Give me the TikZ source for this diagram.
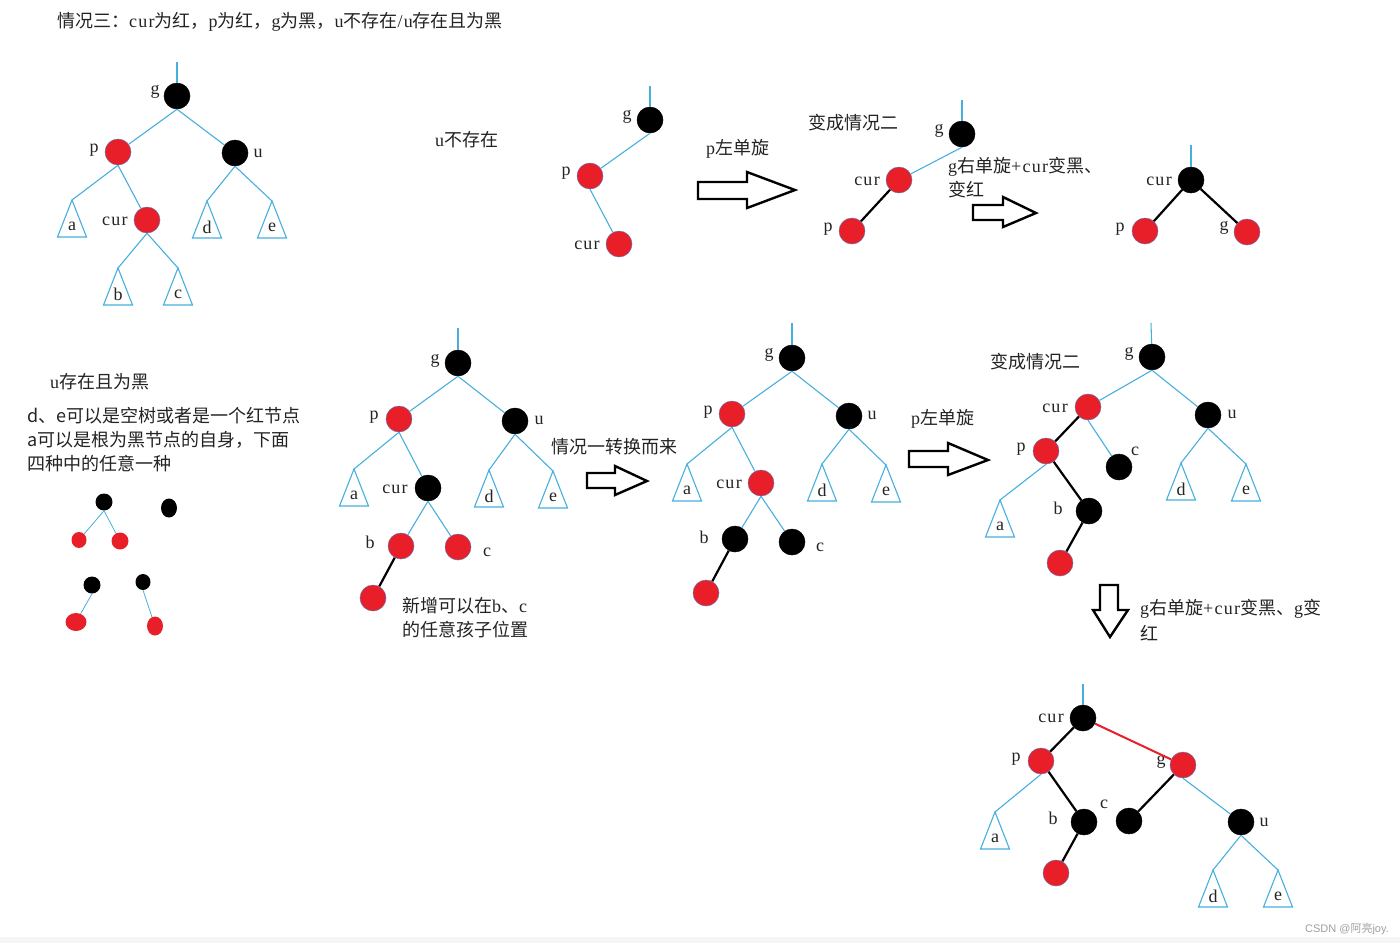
\documentclass[tikz,border=0pt]{standalone}
\usepackage{fontspec}
\setmainfont{Liberation Serif}[LetterSpace=7]
\newfontfamily\cjk{Noto Sans CJK SC}
\newfontfamily\wmfont{Liberation Sans}
\usetikzlibrary{shapes.geometric}
\definecolor{treeblue}{RGB}{70,175,222}
\definecolor{nodered}{RGB}{232,30,40}
\definecolor{txt}{RGB}{35,35,35}
\definecolor{rimc}{RGB}{110,110,170}
\newcommand\subtri[4]{\coordinate (#1) at (#2,#3); \draw[bl] (#1) -- ++(-14.5,37) -- ++(29,0) -- cycle; \path (#1) ++(0,26) node[lbl] {#4};}
\begin{document}
\begin{tikzpicture}[x=1pt,y=-1pt,
 bl/.style={draw=treeblue, line width=1.1pt},
 sbl/.style={draw=treeblue, line width=0.8pt},
 bk/.style={draw=black, line width=2.2pt},
 rd/.style={draw=nodered, line width=2pt},
 rn/.style={circle, fill=nodered, draw=rimc, line width=0.5pt, minimum size=26pt, inner sep=0pt},
 bn/.style={circle, fill=black, draw=black, line width=0.5pt, minimum size=26pt, inner sep=0pt},
 srn/.style={ellipse, fill=nodered, inner sep=0pt},
 sbn/.style={ellipse, fill=black, inner sep=0pt},
 lbl/.style={inner sep=0pt, text=txt, font=\fontsize{18}{20}\selectfont},
 txtl/.style={inner sep=0pt, anchor=west, text=txt, font=\fontsize{18}{22}\selectfont},
 harrow/.style={draw=black, line width=2.4pt, fill=white, line join=miter},
]
\useasboundingbox (0,0) rectangle (1400,943);
\fill[gray!8] (0,937) rectangle (1400,943);

% title
\node[txtl] (title) at (57,22) {{\cjk 情况三：}cur{\cjk 为红，}p{\cjk 为红，}g{\cjk 为黑，}u{\cjk 不存在}/u{\cjk 存在且为黑}};

% ---------- tree 1 ----------
\coordinate (t1top) at (177,62);
\node[bn] (t1g) at (177,96) {};
\node[rn] (t1p) at (118,152) {};
\node[bn] (t1u) at (235,153) {};
\node[rn] (t1c) at (147,220) {};
\subtri{t1a}{72}{200}{a}
\subtri{t1d}{207}{201}{d}
\subtri{t1e}{272}{201}{e}
\subtri{t1b}{118}{268}{b}
\subtri{t1cc}{178}{268}{c}
\node[lbl] (t1gl) at (155,92) {g};
\node[lbl] (t1pl) at (94,150) {p};
\node[lbl] (t1ul) at (258,153) {u};
\node[lbl] (t1cl) at (115,221) {cur};
\draw[bl] (t1top) -- (t1g);
\draw[bl] (t1g.south) -- (t1p);
\draw[bl] (t1g.south) -- (t1u);
\draw[bl] (t1p.south) -- (t1a);
\draw[bl] (t1p.south) -- (t1c);
\draw[bl] (t1u.south) -- (t1d);
\draw[bl] (t1u.south) -- (t1e);
\draw[bl] (t1c.south) -- (t1b);
\draw[bl] (t1c.south) -- (t1cc);

\node[txtl] (nou) at (435,140) {u{\cjk 不存在}};

% ---------- tree 2 ----------
\coordinate (t2top) at (650,86);
\node[bn] (t2g) at (650,120) {};
\node[rn] (t2p) at (590,176) {};
\node[rn] (t2c) at (619,244) {};
\node[lbl] (t2gl) at (627,117) {g};
\node[lbl] (t2pl) at (566,173) {p};
\node[lbl] (t2cl) at (587,245) {cur};
\draw[bl] (t2top) -- (t2g);
\draw[bl] (t2g.south) -- (t2p);
\draw[bl] (t2p.south) -- (t2c);

\node[txtl] (rot1) at (706,149) {p{\cjk 左单旋}};
\draw[harrow] (698,182) -- (747,182) -- (747,172) -- (795,190) -- (747,208) -- (747,199) -- (698,199) -- cycle;
\node[txtl] (case2a) at (808,123) {\cjk 变成情况二};

% ---------- tree 3 ----------
\coordinate (t3top) at (962,100);
\node[bn] (t3g) at (962,134) {};
\node[rn] (t3c) at (899,180) {};
\node[rn] (t3p) at (852,231) {};
\node[lbl] (t3gl) at (939,131) {g};
\node[lbl] (t3cl) at (867,181) {cur};
\node[lbl] (t3pl) at (828,229) {p};
\draw[bl] (t3top) -- (t3g);
\draw[bl] (t3g.south) -- (t3c);
\draw[bk] (t3c) -- (t3p);

\node[txtl] (rot2a) at (948,167) {g{\cjk 右单旋}+cur{\cjk 变黑、}};
\node[txtl] (rot2b) at (948,190) {\cjk 变红};
\draw[harrow] (973,205) -- (1003,205) -- (1003,197) -- (1036,213) -- (1003,227) -- (1003,220) -- (973,220) -- cycle;

% ---------- tree 4 ----------
\coordinate (t4top) at (1191,145);
\node[bn] (t4c) at (1191,180) {};
\node[rn] (t4p) at (1145,231) {};
\node[rn] (t4g) at (1247,232) {};
\node[lbl] (t4cl) at (1159,181) {cur};
\node[lbl] (t4pl) at (1120,229) {p};
\node[lbl] (t4gl) at (1224,228) {g};
\draw[bl] (t4top) -- (t4c);
\draw[bk] (t4c) -- (t4p);
\draw[bk] (t4c) -- (t4g);

% ---------- left text ----------
\node[txtl] (ub) at (50,382) {u{\cjk 存在且为黑}};
\node[txtl] (de1) at (27,416) {\cjk d、e可以是空树或者是一个红节点};
\node[txtl] (de2) at (27,440) {\cjk a可以是根为黑节点的自身，下面};
\node[txtl] (de3) at (27,464) {\cjk 四种中的任意一种};

% small trees
\node[sbn, minimum width=17pt, minimum height=17pt] (s1) at (104,502) {};
\node[srn, minimum width=15pt, minimum height=16pt] (s1l) at (79,540) {};
\node[srn, minimum width=17pt, minimum height=17pt] (s1r) at (120,541) {};
\node[sbn, minimum width=16pt, minimum height=19pt] (s2) at (169,508) {};
\node[sbn, minimum width=17pt, minimum height=17pt] (s3) at (92,585) {};
\node[srn, minimum width=21pt, minimum height=18pt] (s3l) at (76,622) {};
\node[sbn, minimum width=15pt, minimum height=16pt] (s4) at (143,582) {};
\node[srn, minimum width=16pt, minimum height=19pt] (s4r) at (155,626) {};
\draw[sbl] (s1.south) -- (s1l);
\draw[sbl] (s1.south) -- (s1r);
\draw[sbl] (s3.south) -- (s3l);
\draw[sbl] (s4.south) -- (s4r);

% ---------- middle tree A ----------
\coordinate (mAtop) at (458,328);
\node[bn] (mAg) at (458,363) {};
\node[rn] (mAp) at (399,419) {};
\node[bn] (mAu) at (515,421) {};
\node[bn] (mAc) at (428,488) {};
\node[rn] (mAb) at (401,546) {};
\node[rn] (mAcc) at (458,547) {};
\node[rn] (mAn) at (373,598) {};
\subtri{mAa}{354}{469}{a}
\subtri{mAd}{489}{470}{d}
\subtri{mAe}{553}{471}{e}
\node[lbl] (mAgl) at (435,361) {g};
\node[lbl] (mApl) at (374,417) {p};
\node[lbl] (mAul) at (539,420) {u};
\node[lbl] (mAcl) at (395,489) {cur};
\node[lbl] (mAbl) at (370,542) {b};
\node[lbl] (mAccl) at (487,552) {c};
\draw[bl] (mAtop) -- (mAg);
\draw[bl] (mAg.south) -- (mAp);
\draw[bl] (mAg.south) -- (mAu);
\draw[bl] (mAp.south) -- (mAa);
\draw[bl] (mAp.south) -- (mAc);
\draw[bl] (mAu.south) -- (mAd);
\draw[bl] (mAu.south) -- (mAe);
\draw[bl] (mAc.south) -- (mAb);
\draw[bl] (mAc.south) -- (mAcc);
\draw[bk] (mAb) -- (mAn);
\node[txtl] (newa) at (402,606) {{\cjk 新增可以在}b{\cjk 、}c};
\node[txtl] (newb) at (402,630) {\cjk 的任意孩子位置};

\node[txtl] (from1) at (551,447) {\cjk 情况一转换而来};
\draw[harrow] (587,473) -- (615,473) -- (615,466) -- (647,481) -- (615,495) -- (615,488) -- (587,488) -- cycle;

% ---------- middle tree B ----------
\coordinate (mBtop) at (792,323);
\node[bn] (mBg) at (792,358) {};
\node[rn] (mBp) at (732,414) {};
\node[bn] (mBu) at (849,416) {};
\node[rn] (mBc) at (761,483) {};
\node[bn] (mBb) at (735,539) {};
\node[bn] (mBcc) at (792,542) {};
\node[rn] (mBn) at (706,593) {};
\subtri{mBa}{687}{464}{a}
\subtri{mBd}{822}{464}{d}
\subtri{mBe}{886}{465}{e}
\node[lbl] (mBgl) at (769,355) {g};
\node[lbl] (mBpl) at (708,412) {p};
\node[lbl] (mBul) at (872,415) {u};
\node[lbl] (mBcl) at (729,484) {cur};
\node[lbl] (mBbl) at (704,537) {b};
\node[lbl] (mBccl) at (820,547) {c};
\draw[bl] (mBtop) -- (mBg);
\draw[bl] (mBg.south) -- (mBp);
\draw[bl] (mBg.south) -- (mBu);
\draw[bl] (mBp.south) -- (mBa);
\draw[bl] (mBp.south) -- (mBc);
\draw[bl] (mBu.south) -- (mBd);
\draw[bl] (mBu.south) -- (mBe);
\draw[bl] (mBc.south) -- (mBb);
\draw[bl] (mBc.south) -- (mBcc);
\draw[bk] (mBb) -- (mBn);

\node[txtl] (rot3) at (911,419) {p{\cjk 左单旋}};
\draw[harrow] (909,451) -- (948,451) -- (948,443) -- (988,460) -- (948,475) -- (948,467) -- (909,467) -- cycle;

% ---------- tree C ----------
\node[txtl] (case2b) at (990,362) {\cjk 变成情况二};
\coordinate (mCtop) at (1151,323);
\node[bn] (mCg) at (1152,357) {};
\node[rn] (mCc) at (1088,407) {};
\node[bn] (mCu) at (1208,415) {};
\node[rn] (mCp) at (1046,451) {};
\node[bn] (mCcc) at (1119,467) {};
\node[bn] (mCb) at (1089,511) {};
\node[rn] (mCn) at (1060,563) {};
\subtri{mCd}{1181}{463}{d}
\subtri{mCe}{1246}{464}{e}
\subtri{mCa}{1000}{500}{a}
\node[lbl] (mCgl) at (1129,354) {g};
\node[lbl] (mCcl) at (1055,408) {cur};
\node[lbl] (mCul) at (1232,414) {u};
\node[lbl] (mCpl) at (1021,449) {p};
\node[lbl] (mCccl) at (1135,451) {c};
\node[lbl] (mCbl) at (1058,508) {b};
\draw[bl] (mCtop) -- (mCg);
\draw[bl] (mCg.south) -- (mCc);
\draw[bl] (mCg.south) -- (mCu);
\draw[bl] (mCc.south) -- (mCcc);
\draw[bl] (mCp.south) -- (mCa);
\draw[bl] (mCu.south) -- (mCd);
\draw[bl] (mCu.south) -- (mCe);
\draw[bk] (mCc) -- (mCp);
\draw[bk] (mCp) -- (mCb);
\draw[bk] (mCb) -- (mCn);

\draw[harrow] (1100,585) -- (1118,585) -- (1118,610) -- (1128,610) -- (1110,637) -- (1093,610) -- (1100,610) -- cycle;
\node[txtl] (rot4a) at (1140,609) {g{\cjk 右单旋}+cur{\cjk 变黑、}g{\cjk 变}};
\node[txtl] (rot4b) at (1140,633) {\cjk 红};

% ---------- bottom tree ----------
\coordinate (btop) at (1083,684);
\node[bn] (bc) at (1083,718) {};
\node[rn] (bp) at (1041,761) {};
\node[rn] (bg) at (1183,765) {};
\node[bn] (bb) at (1084,822) {};
\node[bn] (bcc) at (1129,821) {};
\node[bn] (bu) at (1241,822) {};
\node[rn] (bn) at (1056,873) {};
\subtri{ba}{995}{812}{a}
\subtri{bd}{1213}{870}{d}
\subtri{be}{1278}{870}{e}
\node[lbl] (bcl) at (1051,718) {cur};
\node[lbl] (bpl) at (1016,759) {p};
\node[lbl] (bgl) at (1161,762) {g};
\node[lbl] (bbl) at (1053,818) {b};
\node[lbl] (bccl) at (1104,804) {c};
\node[lbl] (bul) at (1264,822) {u};
\draw[bl] (btop) -- (bc);
\draw[bk] (bc) -- (bp);
\draw[rd] (bc) -- (bg);
\draw[bl] (bp.south) -- (ba);
\draw[bk] (bp) -- (bb);
\draw[bk] (bb) -- (bn);
\draw[bk] (bg) -- (bcc);
\draw[bl] (bg.south) -- (bu);
\draw[bl] (bu.south) -- (bd);
\draw[bl] (bu.south) -- (be);

\node[anchor=east, inner sep=0pt, text=gray!75, font=\wmfont\fontsize{11}{12}\selectfont] (wm) at (1389,929) {CSDN @{\cjk 阿亮}joy.};
\end{tikzpicture}
\end{document}
